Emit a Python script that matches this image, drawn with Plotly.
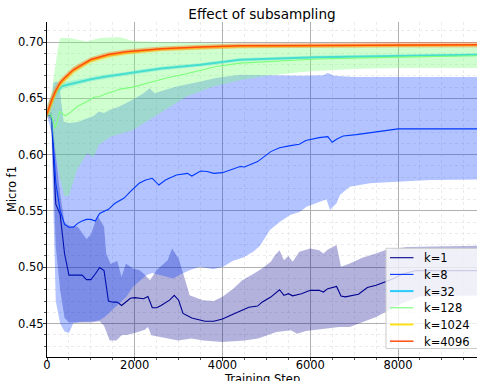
import plotly.graph_objects as go

# ---------------- data ----------------
series_names = ["k=1", "k=8", "k=32", "k=128", "k=1024", "k=4096"]
series_colors = ["#00008f", "#0038ff", "#28ccff", "#7cff79", "#ffe11a", "#ff4d0d"]
series_widths = [1.1, 1.1, 2.0, 1.1, 2.0, 1.5]
series_fill_alpha = [0.3, 0.3, 0.3, 0.36, 0.3, 0.3]

# k=1
k1_steps = [0,100,200,300,400,500,600,700,800,900,1000,1100,1200,1300,1400,1500,1600,1700,1800,1900,
            2000,2200,2300,2400,2500,2600,2800,2900,3000,3100,3300,3600,3800,4000,4200,4400,4600,4800,4900,5100,
            5300,5400,5500,5600,5800,6000,6200,6300,6400,6600,6700,6800,7100,7300,7500,7700,7900,8100,8400,9800]
k1_mean = [0.635,0.635,0.556,0.547,0.512,0.493,0.493,0.493,0.493,0.489,0.489,0.494,0.4998,0.497,0.470,0.469,0.469,0.466,0.469,0.4725,
           0.473,0.472,0.474,0.464,0.464,0.466,0.471,0.475,0.4707,0.459,0.455,0.452,0.452,0.454,0.4575,0.461,0.4645,0.4655,0.469,0.4735,
           0.480,0.475,0.4765,0.4746,0.4765,0.4795,0.4795,0.478,0.481,0.483,0.4745,0.4737,0.476,0.482,0.484,0.487,0.490,0.494,0.497,0.497]
k1_up_steps = [0,100,200,300,400,500,700,800,900,1000,1100,1150,1300,1350,1450,1600,1700,1800,1950,2100,
               2200,2350,2500,2750,2850,3000,3150,3250,3550,3800,4000,4250,4450,4700,4900,5100,5200,5300,5400,5500,
               5600,5750,6000,6200,6300,6400,6600,6700,6900,7200,7500,7700,8200,9800]
k1_up = [0.635,0.638,0.600,0.565,0.540,0.537,0.536,0.530,0.525,0.529,0.540,0.546,0.536,0.512,0.503,0.5055,0.4915,0.5034,0.499,0.4975,
         0.4945,0.4885,0.4975,0.5063,0.5167,0.5078,0.4885,0.4752,0.4707,0.470,0.4737,0.4811,0.4885,0.4939,0.499,0.5048,0.5108,0.5152,0.5063,0.5099,
         0.5048,0.5137,0.5167,0.5152,0.5123,0.5158,0.5197,0.5004,0.5034,0.5087,0.5123,0.5152,0.518,0.519]
k1_lo_steps = [0,100,200,300,400,500,700,1000,1200,1300,1350,1430,1580,1700,1850,2075,2230,2300,2380,2610,
               2990,3290,3560,4000,4500,4810,5230,5560,5700,5900,6300,6660,6900,7200,7500,7740,8100,8500,9800]
k1_lo = [0.635,0.630,0.518,0.480,0.455,0.451,0.451,0.451,0.452,0.448,0.444,0.435,0.435,0.4396,0.440,0.4425,0.4446,0.447,0.4396,0.438,
         0.435,0.4367,0.435,0.4336,0.435,0.4367,0.4425,0.444,0.441,0.4435,0.4455,0.447,0.447,0.4514,0.4559,0.4603,0.468,0.474,0.475]

# k=8
k8_steps = [0,100,200,300,400,500,600,700,800,900,1000,1100,1200,1400,1550,1750,1900,2100,2250,2400,
            2550,2700,2950,3200,3300,3500,3650,3800,4000,4200,4400,4500,4800,5100,5300,5550,5750,5900,6200,6400,
            6500,6600,6750,7050,7450,7650,8000,9800]
k8_mean = [0.635,0.635,0.575,0.550,0.538,0.5355,0.5355,0.539,0.541,0.5425,0.5425,0.541,0.5478,0.5514,0.5568,0.5612,0.5671,0.5746,0.5775,0.579,
           0.573,0.5775,0.582,0.5834,0.581,0.5855,0.585,0.5834,0.584,0.587,0.5895,0.589,0.5938,0.6027,0.6062,0.608,0.6092,0.6125,0.6151,0.616,
           0.611,0.6137,0.6166,0.6178,0.620,0.6211,0.6229,0.6229]
k8_up_steps = [0,100,150,250,300,380,500,700,900,1065,1180,1300,1450,1650,1950,2200,2340,2450,2700,2950,
               3500,3850,4400,5000,5800,6300,6400,6550,7000,8000,9800]
k8_up = [0.635,0.645,0.664,0.665,0.655,0.6294,0.628,0.629,0.632,0.6344,0.6383,0.637,0.640,0.6427,0.6487,0.6546,0.659,0.6546,0.6576,0.6605,
         0.665,0.668,0.6709,0.6705,0.670,0.6705,0.6724,0.670,0.669,0.669,0.669]
k8_lo_steps = [0,100,200,300,400,500,600,800,1000,1200,1315,1500,1810,1960,2265,2400,2600,2875,3000,3250,
               3480,3790,4015,4240,4470,4700,4850,5080,5310,5540,5765,5915,6145,6370,6450,6600,6675,6900,7355,7970,
               8730,9800]
k8_lo = [0.635,0.620,0.470,0.450,0.443,0.4417,0.4505,0.4515,0.4518,0.453,0.4559,0.463,0.4737,0.4826,0.493,0.495,0.493,0.490,0.493,0.4974,
         0.5004,0.4983,0.5004,0.5057,0.5087,0.5137,0.5188,0.533,0.5404,0.5464,0.5493,0.5537,0.5568,0.5603,0.5508,0.5568,0.5641,0.5715,0.5746,0.576,
         0.5775,0.578]

# k=32
k32_steps = [0,100,200,350,600,1000,1350,1750,2100,2600,3500,4400,6150,8000,9800]
k32_mean = [0.638,0.646,0.655,0.661,0.6635,0.667,0.6694,0.6715,0.6739,0.6765,0.6798,0.6843,0.6866,0.6878,0.6887]
k32_lo = [0.632,0.640,0.651,0.658,0.661,0.665,0.6675,0.6698,0.6722,0.6748,0.6782,0.6828,0.6852,0.6865,0.6874]
k32_hi = [0.645,0.652,0.659,0.664,0.666,0.669,0.6713,0.6732,0.6756,0.6782,0.6814,0.6858,0.688,0.6891,0.690]

# k=128
k128_steps = [0,100,190,290,420,550,685,915,1065,1200,1370,1520,1660,1960,2340,2720,3180,3480,3860,4400,6150,8000,9800]
k128_mean = [0.637,0.635,0.6235,0.6383,0.6344,0.638,0.6427,0.6472,0.651,0.6516,0.6546,0.656,0.6582,0.660,0.6641,0.668,0.6718,0.6747,0.6783,0.6813,0.6849,0.6866,0.6878]
k128_up_steps = [0,100,175,250,300,520,900,1200,1660,1960,2500,3500,5000,7000,9800]
k128_up = [0.640,0.655,0.675,0.695,0.7035,0.7035,0.7005,0.7035,0.7044,0.701,0.700,0.699,0.698,0.6975,0.6975]
k128_lo_steps = [0,75,190,305,395,500,685,915,1065,1180,1445,1960,2570,3180,3790,4400,5000,5500,6000,7000,8000,9800]
k128_lo = [0.635,0.6324,0.6012,0.5775,0.563,0.5635,0.5865,0.6012,0.5977,0.6086,0.616,0.622,0.6368,0.6516,0.6605,0.666,0.670,0.672,0.674,0.676,0.677,0.677]

# k=1024 and k=4096
kbig_steps = [0,100,200,300,400,600,800,1000,1400,1800,2200,2600,3500,4400,6200,8000,9800]
k1024_mean = [0.636,0.646,0.656,0.663,0.667,0.6745,0.6792,0.6835,0.688,0.6905,0.692,0.6935,0.6952,0.6963,0.6968,0.6973,0.6974]
k1024_lo = [0.631,0.640,0.651,0.659,0.6635,0.6715,0.6765,0.681,0.6855,0.6882,0.6898,0.6915,0.6933,0.6945,0.6951,0.6957,0.6958]
k1024_hi = [0.643,0.652,0.661,0.667,0.6705,0.6775,0.682,0.686,0.6905,0.6928,0.6942,0.6955,0.6971,0.6981,0.6985,0.6989,0.699]
k4096_mean = [0.636,0.648,0.657,0.664,0.668,0.6754,0.680,0.6845,0.689,0.6913,0.6928,0.694,0.6955,0.6967,0.697,0.6976,0.6976]
k4096_lo = [0.632,0.643,0.653,0.661,0.665,0.6728,0.6775,0.6822,0.6868,0.6892,0.6907,0.692,0.6934,0.6945,0.6948,0.6952,0.6952]
k4096_hi = [0.642,0.654,0.661,0.667,0.671,0.678,0.6825,0.6868,0.6912,0.6934,0.6949,0.696,0.6976,0.6989,0.6992,0.700,0.700]

x_ticks = [0, 2000, 4000, 6000, 8000]
y_ticks = [0.45, 0.50, 0.55, 0.60, 0.65, 0.70]

# ---------------- figure ----------------
series = [
    (k1_steps, k1_mean, k1_up_steps, k1_up, k1_lo_steps, k1_lo),
    (k8_steps, k8_mean, k8_up_steps, k8_up, k8_lo_steps, k8_lo),
    (k32_steps, k32_mean, k32_steps, k32_hi, k32_steps, k32_lo),
    (k128_steps, k128_mean, k128_up_steps, k128_up, k128_lo_steps, k128_lo),
    (kbig_steps, k1024_mean, kbig_steps, k1024_hi, kbig_steps, k1024_lo),
    (kbig_steps, k4096_mean, kbig_steps, k4096_hi, kbig_steps, k4096_lo),
]


def rgba(hex_color, a):
    h = hex_color.lstrip("#")
    r, g, b = int(h[0:2], 16), int(h[2:4], 16), int(h[4:6], 16)
    return f"rgba({r},{g},{b},{a})"


W, H = 477, 381
ML, MR, MT, MB = 47, 0, 22, 24
PW, PH = W - ML - MR, H - MT - MB


def px_x(p):
    return (p - ML) / PW


def px_y(p):
    return (H - MB - p) / PH


fig = go.Figure()
FONT = "DejaVu Sans"
for name, col, lw, fa, (xs, ym, xu, yu, xl, yl) in zip(series_names, series_colors, series_widths,
                                                        series_fill_alpha, series):
    fig.add_trace(go.Scatter(
        x=list(xu) + list(xl)[::-1], y=list(yu) + list(yl)[::-1],
        fill="toself", fillcolor=rgba(col, fa), mode="lines",
        line=dict(width=0, color=rgba(col, 0)), showlegend=False, hoverinfo="skip"))
    fig.add_trace(go.Scatter(
        x=xs, y=ym, mode="lines", name=name, showlegend=False,
        line=dict(color=col, width=lw)))

axis_common = dict(
    showline=True, linecolor="black", linewidth=1.3, mirror=False,
    showgrid=True, gridcolor="#b0b0b0", gridwidth=1, zeroline=False,
    ticks="outside", ticklen=3, tickcolor="#333333", tickwidth=1,
    tickfont=dict(family=FONT, size=11.5, color="black"),
)
fig.update_xaxes(range=[0, 9800], tickvals=x_ticks, ticktext=[str(v) for v in x_ticks],
                 ticklabelstandoff=-6,
                 minor=dict(dtick=500, tick0=0, showgrid=True, gridcolor="#ebebeb", griddash="dot", gridwidth=1,
                            ticks="outside", ticklen=2, tickcolor="#555555"),
                 **axis_common)
fig.update_yaxes(range=[0.4203, 0.7178], tickvals=y_ticks, ticktext=[f"{v:.2f}" for v in y_ticks],
                 ticklabelstandoff=-3,
                 minor=dict(dtick=0.01, tick0=0.40, showgrid=True, gridcolor="#ebebeb", griddash="dot", gridwidth=1,
                            ticks="outside", ticklen=2, tickcolor="#555555"),
                 **axis_common)

# legend drawn as a matplotlib-style framed box
shapes = [dict(type="rect", xref="paper", yref="paper", layer="above",
               x0=px_x(386), x1=px_x(482), y0=px_y(348.5), y1=px_y(248.3),
               fillcolor="rgba(255,255,255,0.8)", line=dict(color="#cccccc", width=1))]
annotations = []
row_y = [257.7, 274.4, 291.1, 307.8, 324.5, 341.2]
for name, col, lw, ry in zip(series_names, series_colors, series_widths, row_y):
    shapes.append(dict(type="line", xref="paper", yref="paper", layer="above",
                       x0=px_x(390), x1=px_x(413.5), y0=px_y(ry), y1=px_y(ry),
                       line=dict(color=col, width=lw)))
    annotations.append(dict(text=name, xref="paper", yref="paper", x=px_x(422), y=px_y(ry + 0.5),
                            xanchor="left", yanchor="middle", showarrow=False,
                            font=dict(family=FONT, size=11.5, color="black")))

annotations += [
    dict(text="Training Step", xref="paper", yref="paper", x=0.5, y=0, xanchor="center",
         yanchor="top", yshift=-12.5, showarrow=False, font=dict(family=FONT, size=11.5, color="black")),
    dict(text="Micro f1", xref="paper", yref="paper", x=px_x(11.5), y=0.5, xanchor="center",
         yanchor="middle", textangle=-90, showarrow=False, font=dict(family=FONT, size=11.5, color="black")),
]

fig.update_layout(
    width=W, height=H,
    margin=dict(l=ML, r=MR, t=MT, b=MB),
    paper_bgcolor="white", plot_bgcolor="white",
    font=dict(family=FONT, size=11.5, color="black"),
    showlegend=False,
    title=dict(text="Effect of subsampling", x=0.5, xref="paper", y=1 - 14.5 / H, yref="container",
               xanchor="center", yanchor="middle", font=dict(family=FONT, size=13.6, color="black")),
    shapes=shapes,
    annotations=annotations,
)

fig.write_html("out.html")
